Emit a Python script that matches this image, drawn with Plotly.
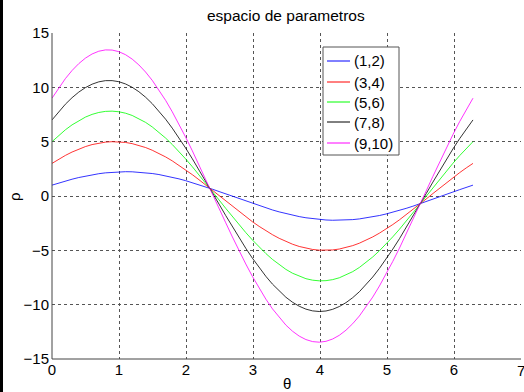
import numpy as np
import plotly.graph_objects as go

# Points whose Hough curves are drawn: rho = x*cos(theta) + y*sin(theta)
point_x = [1, 3, 5, 7, 9]
point_y = [2, 4, 6, 8, 10]
colors = ["#0000ff", "#ff0000", "#00ff00", "#000000", "#ff00ff"]
x_ticks = [0, 1, 2, 3, 4, 5, 6, 7]
y_ticks = [-15, -10, -5, 0, 5, 10, 15]

theta = np.linspace(0, 2 * np.pi, 64)

W, H = 524, 392
L, R, T, B = 52, 3, 33, 33
pw, ph = W - L - R, H - T - B
FONT = "Liberation Sans, Arial, sans-serif"


def px_x(p):
    """Horizontal pixel position -> paper coordinate."""
    return (p - L) / pw


def px_y(p):
    """Vertical pixel position (from top) -> paper coordinate."""
    return 1 - (p - T) / ph


fig = go.Figure()
for px, py, c in zip(point_x, point_y, colors):
    rho = px * np.cos(theta) + py * np.sin(theta)
    fig.add_trace(go.Scatter(
        x=theta, y=rho, mode="lines", name=f"({px},{py})",
        line=dict(color=c, width=0.8), showlegend=False,
    ))

axis_common = dict(
    showgrid=True, gridcolor="#555555", griddash="dot", gridwidth=1,
    zeroline=False, ticks="", showline=False,
    tickfont=dict(family=FONT, size=15, color="#000000"),
)

fig.update_layout(
    width=W, height=H,
    margin=dict(l=L, r=R, t=T, b=B),
    paper_bgcolor="#ffffff", plot_bgcolor="#ffffff",
    xaxis=dict(range=[0, 7], tickvals=x_ticks, ticklabelstandoff=0, **axis_common),
    yaxis=dict(range=[-15, 15], tickvals=y_ticks, ticklabelstandoff=2, **axis_common),
    showlegend=False,
    font=dict(family=FONT, color="#000000"),
)

# Tick label at the right end of the x axis, partly beyond the figure edge
fig.add_annotation(text=str(x_ticks[-1]), xref="x", yref="paper", x=x_ticks[-1],
                   y=px_y(370), showarrow=False, xanchor="center", yanchor="middle",
                   font=dict(size=15, family=FONT))

# Solid left and bottom axis lines
fig.add_shape(type="line", xref="paper", yref="paper", x0=0, x1=0, y0=0, y1=1,
              line=dict(color="#444444", width=1))
fig.add_shape(type="line", xref="paper", yref="paper", x0=0, x1=1, y0=0, y1=0,
              line=dict(color="#444444", width=1))
# Dark strip along the left border of the figure
fig.add_shape(type="rect", xref="paper", yref="paper",
              x0=px_x(0), x1=px_x(3), y0=px_y(H), y1=px_y(0),
              fillcolor="#000000", line=dict(width=0), layer="above")

# Legend box with one line sample and label per point
fig.add_shape(type="rect", xref="paper", yref="paper",
              x0=px_x(323), x1=px_x(399), y0=px_y(155), y1=px_y(47),
              fillcolor="#ffffff", line=dict(color="#555555", width=1), layer="above")
row_y = [61, 82, 102, 122, 143]
for px, py, c, ry in zip(point_x, point_y, colors, row_y):
    fig.add_shape(type="line", xref="paper", yref="paper",
                  x0=px_x(327), x1=px_x(350), y0=px_y(ry), y1=px_y(ry),
                  line=dict(color=c, width=1), layer="above")
    fig.add_annotation(text=f"({px},{py})", xref="paper", yref="paper",
                       x=px_x(352), y=px_y(ry), showarrow=False,
                       xanchor="left", yanchor="middle",
                       font=dict(size=15, family=FONT))

fig.add_annotation(text="espacio de parametros", xref="paper", yref="paper",
                   x=px_x(286), y=px_y(15), showarrow=False,
                   font=dict(size=15.5, family=FONT),
                   xanchor="center", yanchor="middle")
fig.add_annotation(text="θ", xref="paper", yref="paper",
                   x=px_x(287), y=px_y(383), showarrow=False,
                   font=dict(size=15, family=FONT),
                   xanchor="center", yanchor="middle")
fig.add_annotation(text="ρ", xref="paper", yref="paper",
                   x=px_x(14), y=px_y(197), showarrow=False,
                   font=dict(size=15, family=FONT),
                   xanchor="center", yanchor="middle", textangle=-90)

fig.write_html("out.html")
